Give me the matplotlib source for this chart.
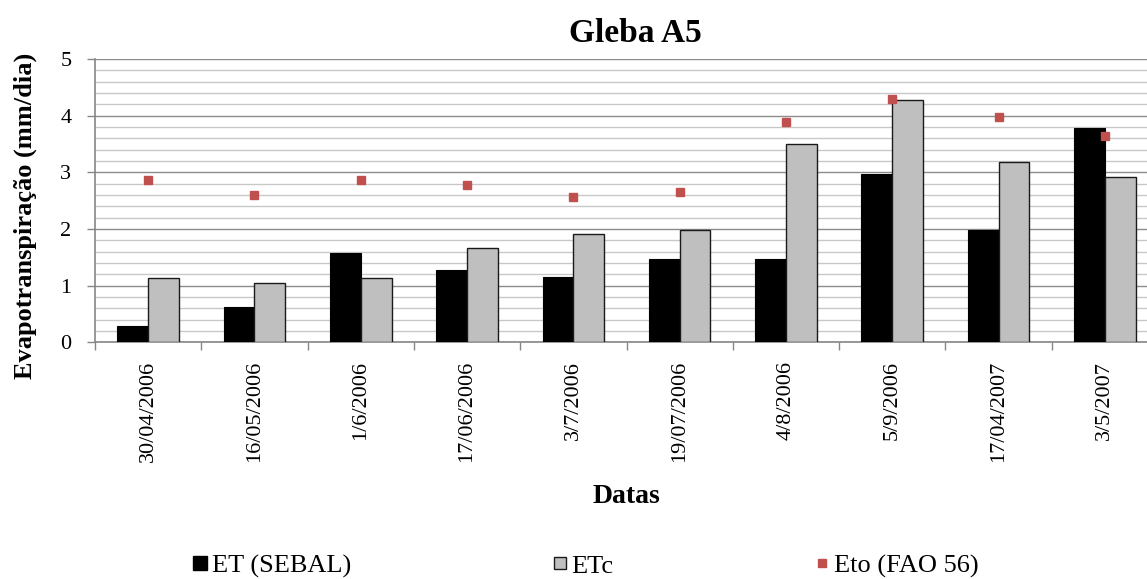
import matplotlib
matplotlib.use("Agg")
import matplotlib.pyplot as plt
import numpy as np
from matplotlib.lines import Line2D
from matplotlib.ticker import MultipleLocator, FixedLocator

plt.rcParams['font.family'] = ['Liberation Serif', 'DejaVu Serif']

dates = ["30/04/2006", "16/05/2006", "1/6/2006", "17/06/2006", "3/7/2006",
         "19/07/2006", "4/8/2006", "5/9/2006", "17/04/2007", "3/5/2007"]
et_sebal = [0.28, 0.63, 1.57, 1.28, 1.15, 1.47, 1.47, 2.97, 1.99, 3.79]
etc = [1.14, 1.04, 1.14, 1.66, 1.92, 1.99, 3.50, 4.28, 3.19, 2.91]
eto = [2.86, 2.60, 2.86, 2.77, 2.57, 2.65, 3.89, 4.29, 3.98, 3.64]

W, H = 1147, 579
fig = plt.figure(figsize=(W / 100, H / 100), dpi=100)
left, right, top, bottom = 95, 1158, 59, 342.3
ax = fig.add_axes([left / W, 1 - bottom / H, (right - left) / W, (bottom - top) / H])

x = np.arange(len(dates))
bw = 0.29
ax.bar(x - bw / 2, et_sebal, bw, color='black', edgecolor='black', linewidth=0.8, zorder=3)
ax.bar(x + bw / 2, etc, bw, color='#BFBFBF', edgecolor='#1a1a1a', linewidth=1.0, zorder=3)
ax.plot(x, eto, linestyle='none', marker='s', markersize=6, color='#C0504D',
        markeredgecolor='#C0504D', zorder=4)

ax.set_xlim(-0.5, len(dates) - 0.5)
ax.set_ylim(0, 5)
ax.yaxis.set_major_locator(MultipleLocator(1))
ax.yaxis.set_minor_locator(MultipleLocator(0.2))
ax.grid(which='major', axis='y', color='#8C8C8C', linewidth=1.0, zorder=0)
ax.grid(which='minor', axis='y', color='#C8C8C8', linewidth=1.0, zorder=0)
ax.set_axisbelow(True)

ax.set_xticks(x)
ax.set_xticklabels(dates, rotation=90, fontsize=16, va='top', ha='center')
ax.tick_params(axis='x', which='major', length=0, pad=13.5)
ax.xaxis.set_minor_locator(FixedLocator(np.arange(-0.5, len(dates) + 0.5, 1.0)))
ax.tick_params(axis='x', which='minor', length=6, color='#868686', width=1, direction='out')
ax.tick_params(axis='y', which='major', labelsize=16, length=6, color='#868686',
               width=1, direction='out', pad=11)
ax.tick_params(axis='y', which='minor', length=0)

for s in ['top', 'right']:
    ax.spines[s].set_visible(False)
for s in ['left', 'bottom']:
    ax.spines[s].set_color('#868686')
    ax.spines[s].set_linewidth(1.2)

fig.text(635 / W, 1 - 42 / H, "Gleba A5", fontsize=24, fontweight='bold',
         ha='center', va='baseline')
fig.text(626.7 / W, 1 - 503 / H, "Datas", fontsize=20, fontweight='bold',
         ha='center', va='baseline')
fig.text(25 / W, 1 - 216 / H, "Evapotranspiração (mm/dia)", fontsize=19,
         fontweight='bold', rotation=90, ha='center', va='center')

handles = [
    Line2D([], [], linestyle='none', marker='s', markersize=9.5, color='black'),
    Line2D([], [], linestyle='none', marker='s', markersize=9, markerfacecolor='#BFBFBF',
           markeredgecolor='#1a1a1a', markeredgewidth=1.0),
    Line2D([], [], linestyle='none', marker='s', markersize=6, color='#C0504D'),
]
labels = ["ET (SEBAL)", "ETc", "Eto (FAO 56)"]
fig.legend(handles, labels, loc='center left', bbox_to_anchor=(192 / W, 1 - 566 / H), ncol=3,
           frameon=False, fontsize=19, handlelength=0.6, handletextpad=0.15,
           columnspacing=7.6, borderaxespad=0, borderpad=0)

fig.savefig("out.png", dpi=100)
